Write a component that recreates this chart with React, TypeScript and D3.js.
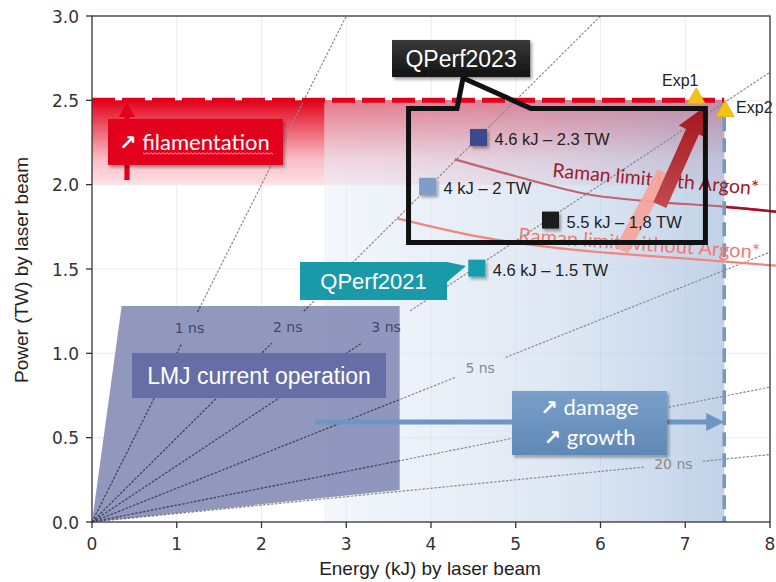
import React from "react";
import * as d3 from "d3";

// ---------- data ----------
const xTicks = [0, 1, 2, 3, 4, 5, 6, 7, 8];
const yTicks = [0, 0.5, 1.0, 1.5, 2.0, 2.5, 3.0];

const pulseDurations = [1, 2, 3, 5, 10, 20]; // ns, P = E / tau
const pulseLabelDurations = [1, 2, 3, 5, 20];
const pulseLabelTexts = ["1 ns", "2 ns", "3 ns", "5 ns", "20 ns"];
const pulseLabelEnergy = [1.15, 2.31, 3.47, 4.58, 6.86];

const shotLabels = ["4.6 kJ – 2.3 TW", "4 kJ – 2 TW", "5.5 kJ – 1,8 TW", "4.6 kJ – 1.5 TW"];
const shotEnergy = [4.56, 3.96, 5.41, 4.54];
const shotPower = [2.28, 1.99, 1.79, 1.505];

const ramanArgonE = [4.28, 5.0, 5.88, 6.6, 7.45, 8.07];
const ramanArgonP = [2.15, 2.05, 1.94, 1.9, 1.87, 1.84];
const ramanNoArgonE = [3.6, 4.58, 5.76, 6.94, 8.07];
const ramanNoArgonP = [1.8, 1.69, 1.61, 1.565, 1.52];

const expLabels = ["Exp1", "Exp2"];
const expEnergy = [7.13, 7.47];
const expPower = [2.515, 2.44];

const lmjE = [0, 0.35, 3.63, 3.63];
const lmjP = [0, 1.28, 1.28, 0.19];

const filamentationP = [2.0, 2.5];
const damageEnergyLimit = 7.46;
const upgradeRegionE = [2.74, 7.46];

const shotColors = ["#3a4a8e", "#7f9dc8", "#1e1e1e", "#199dac"];

function thickArrow(s: number[], t: number[], sh: number, hh: number, hl: number) {
  const dx = t[0] - s[0], dy = t[1] - s[1];
  const L = Math.hypot(dx, dy);
  const ux = dx / L, uy = dy / L;
  const nx = -uy, ny = ux;
  const bx = t[0] - ux * hl, by = t[1] - uy * hl;
  const pts = [
    [s[0] + nx * sh, s[1] + ny * sh],
    [bx + nx * sh, by + ny * sh],
    [bx + nx * hh, by + ny * hh],
    [t[0], t[1]],
    [bx - nx * hh, by - ny * hh],
    [bx - nx * sh, by - ny * sh],
    [s[0] - nx * sh, s[1] - ny * sh],
  ];
  return "M" + pts.map((p) => p[0].toFixed(1) + "," + p[1].toFixed(1)).join("L") + "Z";
}

export default function App() {
  const W = 776, H = 582;
  const x = d3.scaleLinear().domain([0, 8]).range([92, 770]);
  const y = d3.scaleLinear().domain([0, 3]).range([522, 16]);

  const sans = "'Liberation Sans', Arial, sans-serif";
  const cal = "Lato, 'Open Sans', sans-serif";
  const dv = "'DejaVu Sans', sans-serif";

  // pulse lines with gaps at labels
  const pulseSegs: number[][][] = [];
  pulseDurations.forEach((tau) => {
    const eEnd = Math.min(8, 3 * tau);
    const p0 = [x(0), y(0)], p1 = [x(eEnd), y(eEnd / tau)];
    const li = pulseLabelDurations.indexOf(tau);
    if (li < 0) { pulseSegs.push([p0, p1]); return; }
    const el = pulseLabelEnergy[li];
    const c = [x(el), y(el / tau)];
    const dx = p1[0] - p0[0], dy = p1[1] - p0[1];
    const L = Math.hypot(dx, dy);
    const ux = dx / L, uy = dy / L;
    const lw = pulseLabelTexts[li].length * 7.7;
    const s = Math.min((lw / 2 + 10) / Math.abs(ux), 16 / Math.abs(uy));
    const tc = Math.hypot(c[0] - p0[0], c[1] - p0[1]);
    pulseSegs.push([p0, [p0[0] + ux * (tc - s), p0[1] + uy * (tc - s)]]);
    pulseSegs.push([[p0[0] + ux * (tc + s), p0[1] + uy * (tc + s)], p1]);
  });

  const line = d3.line<number>().curve(d3.curveMonotoneX)
    .x((_, i) => x(ramanArgonE[i])).y((_, i) => y(ramanArgonP[i]));
  const argonPath = line(ramanArgonE as any) || "";
  const line2 = d3.line<number>().curve(d3.curveMonotoneX)
    .x((_, i) => x(ramanNoArgonE[i])).y((_, i) => y(ramanNoArgonP[i]));
  const noArgonPath = line2(ramanNoArgonE as any) || "";

  const lmjPath = "M" + lmjE.map((e, i) => `${x(e)},${y(lmjP[i])}`).join("L") + "Z";

  // callout geometry (data units)
  const cl = x(3.735), cr = x(7.238), ct = y(2.452), cb = y(1.657);
  const calloutPath = `M${cl},${ct}L${x(4.307)},${ct}L${x(4.378)},${y(2.632)}L${x(5.18)},${ct}L${cr},${ct}L${cr},${cb}L${cl},${cb}Z`;
  const q21 = { l: x(2.454), r: x(4.189), t: y(1.541), b: y(1.316) };
  const q21Path = `M${q21.l},${q21.t}L${q21.r},${q21.t}L${x(4.413)},${y(1.518)}L${q21.r},${y(1.423)}L${q21.r},${q21.b}L${q21.l},${q21.b}Z`;

  // wavy underline
  const wav: string[] = [];
  for (let xx = 143, k = 0; xx <= 273; xx += 2, k++) wav.push(`${xx},${153 + (k % 2 ? 1.2 : -0.2)}`);

  const arrowGlyph = (
    <tspan fontFamily={dv} fontSize={21} fontWeight="bold">↗</tspan>
  );

  return (
    <svg width={W} height={H} style={{ position: "absolute", left: 0, top: 0, display: "block" }}>
      <defs>
        <linearGradient id="redBand" x1="0" y1="0" x2="0" y2="1">
          <stop offset="0" stopColor="#e3001b" />
          <stop offset="0.3" stopColor="#ec5465" />
          <stop offset="0.7" stopColor="#f8bec7" />
          <stop offset="1" stopColor="#fde0e4" />
        </linearGradient>
        <linearGradient id="blueReg" x1="0" y1="0" x2="1" y2="0">
          <stop offset="0" stopColor="#e8eef8" stopOpacity="0.5" />
          <stop offset="0.6" stopColor="#c9d8ec" stopOpacity="0.62" />
          <stop offset="1" stopColor="#a9c1de" stopOpacity="0.72" />
        </linearGradient>
        <linearGradient id="darkArrow" x1="0" y1="1" x2="0" y2="0">
          <stop offset="0" stopColor="#c24a50" />
          <stop offset="1" stopColor="#a5161f" />
        </linearGradient>
        <linearGradient id="blackBox" x1="0" y1="0" x2="0" y2="1">
          <stop offset="0" stopColor="#3a3a3a" />
          <stop offset="1" stopColor="#111" />
        </linearGradient>
        <linearGradient id="damBox" x1="0" y1="0" x2="0" y2="1">
          <stop offset="0" stopColor="#7aa0c9" />
          <stop offset="1" stopColor="#6088b5" />
        </linearGradient>
        <filter id="shadow" x="-10%" y="-10%" width="130%" height="140%">
          <feDropShadow dx="2" dy="2.5" stdDeviation="1.8" floodColor="#000" floodOpacity="0.35" />
        </filter>
        <clipPath id="rightOfBlue">
          <rect x={x(damageEnergyLimit)} y={0} width={100} height={H} />
        </clipPath>
        <clipPath id="lmjClip">
          <path d={lmjPath} />
        </clipPath>
      </defs>

      <rect x={0} y={0} width={W} height={H} fill="#fff" />

      {/* grid */}
      {xTicks.slice(1, -1).map((t) => (
        <line key={"gx" + t} x1={x(t)} x2={x(t)} y1={y(0)} y2={y(3)} stroke="#ececec" strokeWidth={1} />
      ))}
      {yTicks.slice(1, -1).map((t) => (
        <line key={"gy" + t} x1={x(0)} x2={x(8)} y1={y(t)} y2={y(t)} stroke="#ececec" strokeWidth={1} />
      ))}

      {/* filamentation red band */}
      <rect x={x(0)} y={y(filamentationP[1])} width={x(damageEnergyLimit) - x(0)}
        height={y(filamentationP[0]) - y(filamentationP[1])} fill="url(#redBand)" />
      {/* upgrade region */}
      <rect x={x(upgradeRegionE[0])} y={y(2.5)} width={x(upgradeRegionE[1]) - x(upgradeRegionE[0])}
        height={y(0) - y(2.5)} fill="url(#blueReg)" />

      {/* LMJ current operation polygon */}
      <path d={lmjPath} fill="#868cb7" fillOpacity={0.9} />

      {/* pulse duration lines */}
      {pulseSegs.map((s, i) => (
        <line key={"ps" + i} x1={s[0][0]} y1={s[0][1]} x2={s[1][0]} y2={s[1][1]}
          stroke="#8c8c8c" strokeWidth={1.2} strokeDasharray="2.5,1.5" />
      ))}
      <g clipPath="url(#lmjClip)">
        {pulseSegs.map((s, i) => (
          <line key={"pd" + i} x1={s[0][0]} y1={s[0][1]} x2={s[1][0]} y2={s[1][1]}
            stroke="#3e4366" strokeWidth={1.2} strokeDasharray="2.5,1.5" />
        ))}
      </g>
      {pulseLabelTexts.map((t, i) => {
        const e = pulseLabelEnergy[i];
        const inside = i < 3;
        return (
          <text key={"pl" + i} x={x(e)} y={y(e / pulseLabelDurations[i])} textAnchor="middle"
            dominantBaseline="central" fontFamily={dv} fontSize={14}
            fill={inside ? "#414769" : "#8a8a8a"}>{t}</text>
        );
      })}

      {/* Raman limit curves */}
      <path d={noArgonPath} fill="none" stroke="#f3857f" strokeWidth={2.2} />
      <path d={argonPath} fill="none" stroke="#c0636e" strokeWidth={2.2} />
      <path d={argonPath} fill="none" stroke="#a60f1f" strokeWidth={2.5} clipPath="url(#rightOfBlue)" />

      {/* red dashed filamentation threshold */}
      <line x1={x(0)} x2={x(damageEnergyLimit)} y1={y(2.5)} y2={y(2.5)} stroke="#e3001b"
        strokeWidth={5} strokeDasharray="23,7" />
      {/* blue dashed damage limit */}
      <line x1={x(damageEnergyLimit)} x2={x(damageEnergyLimit)} y1={y(2.4)} y2={y(0)}
        stroke="#7398c2" strokeWidth={3.5} strokeDasharray="14,7" />

      {/* damage arrow */}
      <path d={thickArrow([x(2.63), y(0.593)], [x(7.46), y(0.593)], 2.6, 9, 18)} fill="#6f96c2" />
      {/* filamentation arrow */}
      <path d={thickArrow([x(0.413), y(2.028)], [x(0.413), y(2.484)], 2.6, 8, 14)} fill="#e3001b" />

      {/* boxes */}
      <rect x={x(0.472)} y={y(1.002)} width={x(3.469) - x(0.472)} height={y(0.735) - y(1.002)} fill="#666fa5" />
      <text x={(x(0.472) + x(3.469)) / 2} y={(y(1.002) + y(0.735)) / 2 + 8} textAnchor="middle"
        fontFamily={sans} fontSize={23} fill="#fff">LMJ current operation</text>

      <rect x={x(0.189)} y={y(2.389)} width={x(2.254) - x(0.189)} height={y(2.117) - y(2.389)}
        fill="#e2001a" filter="url(#shadow)" />
      <text x={119} y={150} fontFamily={cal} fontSize={22} fill="#fff">
        {arrowGlyph} filamentation
      </text>
      <polyline points={wav.join(" ")} fill="none" stroke="#f7a3ae" strokeWidth={1} />

      <rect x={x(4.956)} y={y(0.777)} width={x(6.785) - x(4.956)} height={y(0.397) - y(0.777)}
        fill="url(#damBox)" filter="url(#shadow)" />
      <text x={(x(4.956) + x(6.785)) / 2} y={415} textAnchor="middle" fontFamily={cal} fontSize={22} fill="#fff">
        {arrowGlyph} damage
      </text>
      <text x={(x(4.956) + x(6.785)) / 2} y={445} textAnchor="middle" fontFamily={cal} fontSize={22} fill="#fff">
        {arrowGlyph} growth
      </text>

      <path d={q21Path} fill="#1a9aa9" />
      <text x={(q21.l + q21.r) / 2} y={(q21.t + q21.b) / 2 + 8} textAnchor="middle" fontFamily={sans}
        fontSize={22} fill="#fff">QPerf2021</text>

      {/* Raman texts */}
      <text transform={`translate(552,177) rotate(5)`} fontFamily={cal} fontSize={19.5} fill="#a01a2c">
        Raman limit with Argon*
      </text>
      <text transform={`translate(518,242) rotate(4)`} fontFamily={cal} fontSize={20} fill="#f27a76">
        Raman limit without Argon*
      </text>

      {/* big arrows */}
      <path d={thickArrow([x(6.25), y(1.61)], [x(6.75), y(2.075)], 7, 7, 1)} fill="#f4a49c" fillOpacity={0.95} />
      <path d={thickArrow([x(6.70), y(1.879)], [x(7.21), y(2.455)], 7, 15, 26)} fill="url(#darkArrow)" />

      {/* QPerf2023 callout */}
      <path d={calloutPath} fill="none" stroke="#111" strokeWidth={5} strokeLinejoin="miter" />
      <rect x={x(3.54)} y={y(2.858)} width={x(5.17) - x(3.54)} height={y(2.638) - y(2.858)}
        fill="url(#blackBox)" filter="url(#shadow)" />
      <text x={(x(3.54) + x(5.17)) / 2} y={(y(2.858) + y(2.638)) / 2 + 8} textAnchor="middle"
        fontFamily={sans} fontSize={23} fill="#fff">QPerf2023</text>

      {/* shots */}
      {shotLabels.map((l, i) => (
        <g key={"s" + i}>
          <rect x={x(shotEnergy[i]) - 8.5} y={y(shotPower[i]) - 8.5} width={17} height={17}
            fill={shotColors[i]} filter="url(#shadow)" />
          <text x={x(shotEnergy[i]) + 16} y={y(shotPower[i]) + 7.5} fontFamily={sans} fontSize={16.5}
            fill="#222">{l}</text>
        </g>
      ))}

      {/* Exp triangles */}
      {expLabels.map((l, i) => {
        const cx = x(expEnergy[i]), cy = y(expPower[i]);
        return (
          <g key={"e" + i}>
            <path d={`M${cx},${cy - 10}L${cx + 9},${cy + 6}L${cx - 9},${cy + 6}Z`} fill="#f5c316"
              stroke="#e3a90a" strokeWidth={0.8} />
            <text x={i === 0 ? cx - 16 : cx + 11} y={i === 0 ? cy - 12 : cy + 3}
              textAnchor={i === 0 ? "middle" : "start"} fontFamily={sans} fontSize={16} fill="#222">{l}</text>
          </g>
        );
      })}

      {/* frame */}
      <rect x={x(0)} y={y(3)} width={x(8) - x(0)} height={y(0) - y(3)} fill="none" stroke="#333" strokeWidth={1.3} />
      {xTicks.map((t) => (
        <g key={"xt" + t}>
          <line x1={x(t)} x2={x(t)} y1={y(0)} y2={y(0) + 6} stroke="#333" strokeWidth={1.3} />
          <text x={x(t)} y={550} textAnchor="middle" fontFamily={dv} fontSize={17} fill="#333">{t}</text>
        </g>
      ))}
      {yTicks.map((t) => (
        <g key={"yt" + t}>
          <line x1={x(0) - 6} x2={x(0)} y1={y(t)} y2={y(t)} stroke="#333" strokeWidth={1.3} />
          <text x={79} y={y(t) + 6.5} textAnchor="end" fontFamily={dv} fontSize={17} fill="#333">{t.toFixed(1)}</text>
        </g>
      ))}
      <text x={430} y={575} textAnchor="middle" fontFamily={sans} fontSize={19} fill="#222">Energy (kJ) by laser beam</text>
      <text transform="translate(28,270) rotate(-90)" textAnchor="middle" fontFamily={sans} fontSize={19} fill="#222">
        Power (TW) by laser beam
      </text>
    </svg>
  );
}
